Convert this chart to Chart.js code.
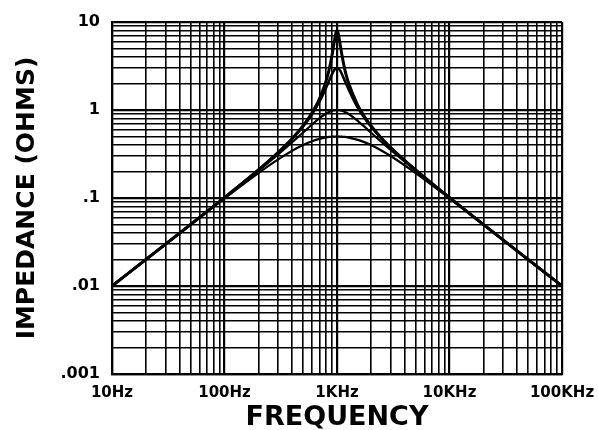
<!DOCTYPE html>
<html><head><meta charset="utf-8">
<script src="https://cdn.jsdelivr.net/npm/chart.js@4/dist/chart.umd.min.js"></script>
<style>html,body{margin:0;padding:0;background:#fff;}#c{display:block;}</style>
</head><body>
<canvas id="c" width="598" height="430"></canvas>
<script>
// Frequency (Hz) of the sample points
const freqHz = [10, 20, 50, 100, 200, 300, 400, 500, 600, 700, 800, 850, 900, 950, 975, 1000, 1026, 1050, 1100, 1175, 1250, 1500, 1700, 2000, 2500, 3000, 5000, 10000, 20000, 50000, 100000];
// Impedance (ohms) of the four curves, highest peak first
const zPeak8 = [0.01, 0.02, 0.05, 0.101, 0.208, 0.33, 0.475, 0.664, 0.931, 1.35, 2.14, 2.86, 4.08, 6.18, 7.4, 8.0, 7.4, 6.3, 4.38, 2.86, 2.14, 1.19, 0.894, 0.664, 0.475, 0.375, 0.208, 0.101, 0.05, 0.02, 0.01];
const zPeak3 = [0.01, 0.02, 0.05, 0.101, 0.208, 0.328, 0.47, 0.651, 0.895, 1.25, 1.79, 2.14, 2.53, 2.87, 2.97, 3.0, 2.97, 2.88, 2.6, 2.14, 1.79, 1.11, 0.862, 0.651, 0.47, 0.372, 0.208, 0.101, 0.05, 0.02, 0.01];
const zPeak1 = [0.01, 0.02, 0.05, 0.101, 0.204, 0.313, 0.43, 0.555, 0.684, 0.808, 0.912, 0.951, 0.978, 0.995, 0.999, 1.0, 0.999, 0.995, 0.982, 0.951, 0.912, 0.768, 0.669, 0.555, 0.43, 0.351, 0.204, 0.101, 0.05, 0.02, 0.01];
const zPeak05 = [0.01, 0.02, 0.05, 0.099, 0.192, 0.275, 0.345, 0.4, 0.441, 0.47, 0.488, 0.494, 0.497, 0.499, 0.5, 0.5, 0.5, 0.499, 0.498, 0.494, 0.488, 0.46, 0.437, 0.4, 0.345, 0.3, 0.192, 0.099, 0.05, 0.02, 0.01];

const xTickValues = [10, 100, 1000, 10000, 100000];
const xTickLabels = ['10Hz', '100Hz', '1KHz', '10KHz', '100KHz'];
const yTickValues = [0.001, 0.01, 0.1, 1, 10];
const yTickLabels = ['.001', '.01', '.1', '1', '10'];
const xTitle = 'FREQUENCY';
const yTitle = 'IMPEDANCE (OHMS)';

function pts(ys) { return freqHz.map((f, i) => ({ x: f, y: ys[i] })); }
function fullLogTicks(decades) {
  const t = [];
  decades.forEach((d, i) => {
    t.push({ value: d });
    if (i < decades.length - 1) { for (let m = 2; m <= 9; m++) t.push({ value: m * d }); }
  });
  return t;
}
function labelFor(v, vals, labs) {
  for (let i = 0; i < vals.length; i++) { if (Math.abs(v / vals[i] - 1) < 1e-6) return labs[i]; }
  return '';
}
const tickFont = { family: 'DejaVu Sans', weight: 'bold', size: 15 };
function gridWidth(vals) {
  return c => (c.tick && labelFor(c.tick.value, vals, vals.map(String)) ? 2.2 : 1.6);
}
function ds(ys, w) {
  return { data: pts(ys), borderColor: '#000', backgroundColor: '#000', borderWidth: w, pointRadius: 0, fill: false, cubicInterpolationMode: 'monotone' };
}

new Chart(document.getElementById('c'), {
  type: 'line',
  data: { datasets: [ds(zPeak8, 3), ds(zPeak3, 2.6), ds(zPeak1, 2.2), ds(zPeak05, 2.2)] },
  options: {
    responsive: false, animation: false, devicePixelRatio: 1,
    layout: { padding: { left: 0, right: 36, top: 22, bottom: 0 } },
    plugins: { legend: { display: false }, tooltip: { enabled: false } },
    scales: {
      x: {
        type: 'logarithmic', min: 10, max: 100000, position: 'bottom',
        afterBuildTicks: s => { s.ticks = fullLogTicks(xTickValues); },
        afterFit: s => { s.height = 56; s.paddingRight = 30; s.paddingLeft = 0; },
        ticks: { autoSkip: false, maxRotation: 0, minRotation: 0, padding: 10, color: '#000', font: tickFont,
                 callback: v => labelFor(v, xTickValues, xTickLabels) },
        grid: { color: '#000', lineWidth: gridWidth(xTickValues), drawTicks: false },
        border: { color: '#000', width: 2.2 },
        title: { display: true, text: xTitle, color: '#000', font: { family: 'DejaVu Sans', weight: 'bold', size: 27, lineHeight: 1 }, padding: { top: 0, bottom: -1 } }
      },
      y: {
        type: 'logarithmic', min: 0.001, max: 10, position: 'left',
        afterBuildTicks: s => { s.ticks = fullLogTicks(yTickValues); },
        afterFit: s => { s.width = 112; },
        ticks: { autoSkip: false, padding: 12, color: '#000', font: { family: 'DejaVu Sans', weight: 'bold', size: 16 },
                 callback: v => labelFor(v, yTickValues, yTickLabels) },
        grid: { color: '#000', lineWidth: gridWidth(yTickValues), drawTicks: false },
        border: { color: '#000', width: 2.2 },
        title: { display: true, text: yTitle, color: '#000', font: { family: 'DejaVu Sans', weight: 'bold', size: 25, lineHeight: 1 }, padding: { top: 15, bottom: 0 } }
      }
    }
  }
});
</script>
</body></html>
